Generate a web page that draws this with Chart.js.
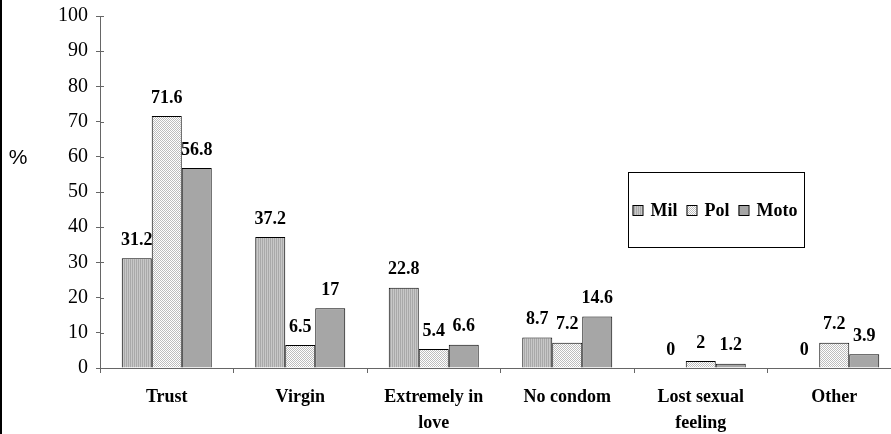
<!DOCTYPE html>
<html>
<head>
<meta charset="utf-8">
<script src="https://cdn.jsdelivr.net/npm/chart.js@4/dist/chart.umd.min.js"></script>
<style>
  html, body { margin: 0; padding: 0; background: #fff; overflow: hidden; }
  #wrap { width: 902px; height: 434px; position: relative; }
</style>
</head>
<body>
<div id="wrap"><canvas id="chart"></canvas></div>
<script>
const categories = ['Trust', 'Virgin', ['Extremely in', 'love'], 'No condom', ['Lost sexual', 'feeling'], 'Other'];
const seriesNames = ['Mil', 'Pol', 'Moto'];
const milValues = [31.2, 37.2, 22.8, 8.7, 0, 0];
const polValues = [71.6, 6.5, 5.4, 7.2, 2, 7.2];
const motoValues = [56.8, 17, 6.6, 14.6, 1.2, 3.9];
const yTicks = { min: 0, max: 100, step: 10 };

const SERIF = "'Liberation Serif', 'Times New Roman', serif";

function makePattern(kind) {
  const c = document.createElement('canvas');
  c.width = 2; c.height = 2;
  const g = c.getContext('2d');
  if (kind === 'stripes') {
    g.fillStyle = '#a9a9a9'; g.fillRect(0, 0, 1, 2);
    g.fillStyle = '#c8c8c8'; g.fillRect(1, 0, 1, 2);
  } else if (kind === 'checker') {
    g.fillStyle = '#ffffff'; g.fillRect(0, 0, 2, 2);
    g.fillStyle = '#bdbdbd'; g.fillRect(0, 0, 1, 1); g.fillRect(1, 1, 1, 1);
  } else {
    g.fillStyle = '#a6a6a6'; g.fillRect(0, 0, 2, 2);
  }
  return g.createPattern(c, 'repeat');
}

const fills = [makePattern('stripes'), makePattern('checker'), makePattern('solid')];

// value labels above each bar
const valueLabels = {
  id: 'valueLabels',
  afterDatasetsDraw(chart) {
    const ctx = chart.ctx;
    ctx.save();
    ctx.font = 'bold 18px ' + SERIF;
    ctx.fillStyle = '#000';
    ctx.textAlign = 'center';
    ctx.textBaseline = 'middle';
    chart.data.datasets.forEach((ds, i) => {
      chart.getDatasetMeta(i).data.forEach((bar, j) => {
        ctx.fillText(String(ds.data[j]), bar.x, bar.y - 18);
      });
    });
    ctx.restore();
  }
};

// extras: left frame line, inner y ticks, "%" label, boxed legend
const extras = {
  id: 'extras',
  afterDraw(chart) {
    const ctx = chart.ctx;
    const y = chart.scales.y;
    const area = chart.chartArea;
    ctx.save();
    ctx.fillStyle = '#000';
    ctx.fillRect(0, 0, 2, chart.height);

    ctx.strokeStyle = '#666';
    ctx.lineWidth = 1;
    ctx.beginPath();
    y.ticks.forEach(t => {
      const py = Math.round(y.getPixelForValue(t.value)) + 0.5;
      ctx.moveTo(area.left, py);
      ctx.lineTo(area.left + 4, py);
    });
    ctx.stroke();

    ctx.font = "21px 'Liberation Sans', Arial, sans-serif";
    ctx.textAlign = 'center';
    ctx.textBaseline = 'middle';
    ctx.fillText('%', 18, y.getPixelForValue(60) + 1);

    // legend box
    const bx = 628.5, by = 172.5, bw = 176, bh = 75;
    ctx.fillStyle = '#fff';
    ctx.fillRect(bx, by, bw, bh);
    ctx.strokeStyle = '#000';
    ctx.strokeRect(bx, by, bw, bh);
    ctx.font = 'bold 18px ' + SERIF;
    ctx.textAlign = 'left';
    let x = bx + 4;
    const cy = 211;
    chart.data.datasets.forEach((ds, i) => {
      ctx.fillStyle = ds.backgroundColor;
      ctx.fillRect(x, cy - 6, 10, 10);
      ctx.strokeStyle = '#000';
      ctx.strokeRect(x + 0.5, cy - 5.5, 10, 10);
      ctx.fillStyle = '#000';
      ctx.fillText(ds.label, x + 18, cy);
      x += 18 + ctx.measureText(ds.label).width + 9;
    });
    ctx.restore();
  }
};

new Chart(document.getElementById('chart'), {
  type: 'bar',
  data: {
    labels: categories,
    datasets: [
      { label: seriesNames[0], data: milValues, backgroundColor: fills[0] },
      { label: seriesNames[1], data: polValues, backgroundColor: fills[1] },
      { label: seriesNames[2], data: motoValues, backgroundColor: fills[2] }
    ].map(d => Object.assign(d, {
      borderColor: '#000',
      borderWidth: 1,
      borderSkipped: 'bottom',
      categoryPercentage: 0.674,
      barPercentage: 1
    }))
  },
  options: {
    responsive: true,
    maintainAspectRatio: false,
    animation: false,
    devicePixelRatio: 1,
    layout: { padding: { top: 16, right: 1, left: 0, bottom: 0 } },
    plugins: {
      legend: { display: false },
      tooltip: { enabled: false }
    },
    scales: {
      x: {
        offset: true,
        border: { color: '#666', width: 1 },
        grid: { drawOnChartArea: false, tickLength: 5, color: '#666', offset: true },
        ticks: {
          color: '#000',
          padding: 11,
          maxRotation: 0,
          autoSkip: false,
          font: { family: SERIF, size: 18, weight: 'bold', lineHeight: 1.45 }
        },
        afterFit(scale) { scale.height = 66; scale.paddingLeft = 0; scale.paddingRight = 0; }
      },
      y: {
        min: yTicks.min,
        max: yTicks.max,
        border: { color: '#666', width: 1 },
        grid: { drawOnChartArea: false, tickLength: 4, color: '#666' },
        ticks: {
          stepSize: yTicks.step,
          color: '#000',
          padding: 8,
          font: { family: SERIF, size: 20 }
        },
        afterFit(scale) { scale.width = 100; scale.paddingTop = 0; scale.paddingBottom = 0; }
      }
    }
  },
  plugins: [valueLabels, extras]
});
</script>
</body>
</html>
